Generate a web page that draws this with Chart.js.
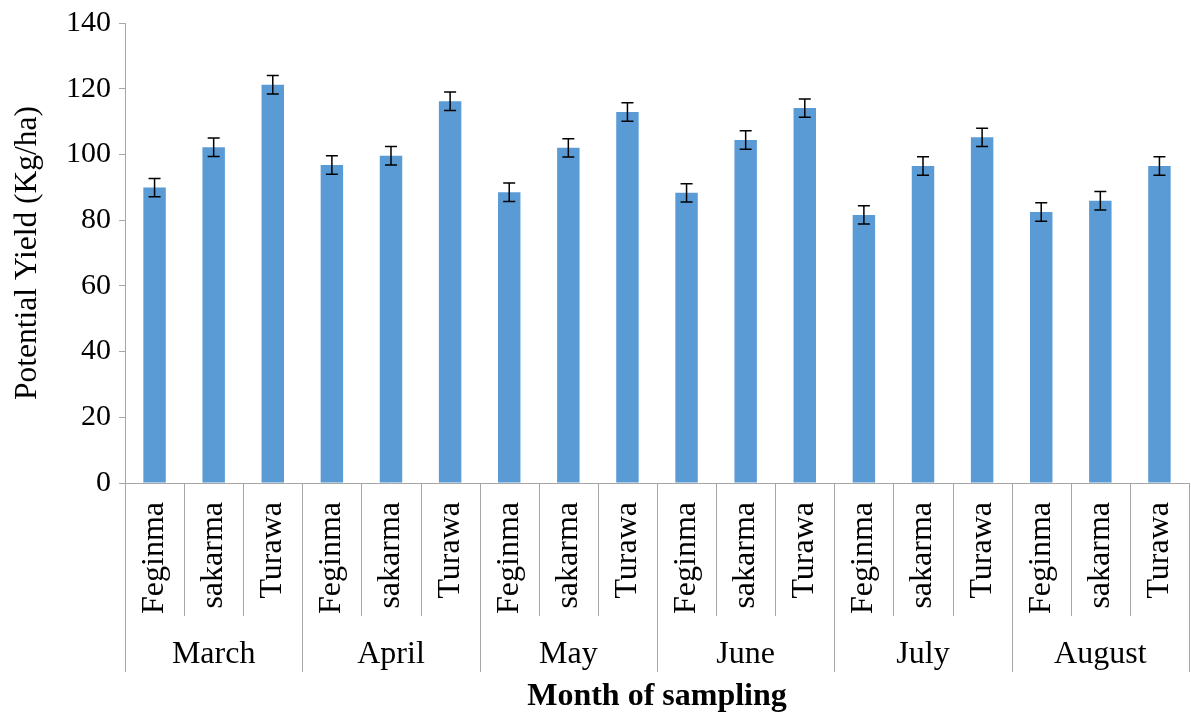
<!DOCTYPE html>
<html>
<head>
<meta charset="utf-8">
<script src="https://cdn.jsdelivr.net/npm/chart.js@4/dist/chart.umd.min.js"></script>
<style>
  body { margin: 0; background: #fff; }
</style>
</head>
<body>
<canvas id="barChart" width="1191" height="719"></canvas>
<script>
// -- Data --
const months = ["March", "April", "May", "June", "July", "August"]
const sites = ["Feginma", "sakarma", "Turawa"]
const yieldVals = [
  89.9, 102.2, 121.2,
  96.8, 99.6, 116.2,
  88.5, 102.0, 112.9,
  88.3, 104.4, 114.1,
  81.6, 96.5, 105.2,
  82.5, 85.9, 96.5
]
const errVals = [
  2.8, 2.8, 2.8,
  2.8, 2.8, 2.8,
  2.8, 2.8, 2.8,
  2.8, 2.8, 2.8,
  2.8, 2.8, 2.8,
  2.8, 2.8, 2.8
]
const yTicks = [0, 20, 40, 60, 80, 100, 120, 140]

const serif = '"Times New Roman", "Liberation Serif", serif'
const axisGray = "#a6a6a6"

let labels = []
for (let m of months) {
  for (let s of sites) labels.push(s)
}

// -- Plugins --
let errorBars = {
  id: "errorBars",
  afterDatasetsDraw(chart) {
    let ctx = chart.ctx
    let y = chart.scales.y
    let meta = chart.getDatasetMeta(0)
    ctx.save()
    ctx.strokeStyle = "#000"
    ctx.lineWidth = 1.5
    meta.data.forEach((bar, i) => {
      let top = y.getPixelForValue(yieldVals[i] + errVals[i])
      let bot = y.getPixelForValue(yieldVals[i] - errVals[i])
      ctx.beginPath()
      ctx.moveTo(bar.x, top)
      ctx.lineTo(bar.x, bot)
      ctx.moveTo(bar.x - 6, top)
      ctx.lineTo(bar.x + 6, top)
      ctx.moveTo(bar.x - 6, bot)
      ctx.lineTo(bar.x + 6, bot)
      ctx.stroke()
    })
    ctx.restore()
  }
}

let groupAxis = {
  id: "groupAxis",
  afterDraw(chart) {
    let ctx = chart.ctx
    let x = chart.scales.x
    let area = chart.chartArea
    let step = (area.right - area.left) / labels.length
    ctx.save()
    ctx.strokeStyle = axisGray
    ctx.lineWidth = 1
    for (let i = 0; i <= labels.length; i++) {
      let px = Math.round(x.getPixelForValue(0) - step / 2 + i * step) + 0.5
      let end = (i % sites.length === 0) ? 672 : 616
      ctx.beginPath()
      ctx.moveTo(px, area.bottom)
      ctx.lineTo(px, end)
      ctx.stroke()
    }
    ctx.fillStyle = "#000"
    ctx.font = "32px " + serif
    ctx.textAlign = "center"
    ctx.textBaseline = "middle"
    months.forEach((m, j) => {
      let cx = x.getPixelForValue(j * sites.length + 1)
      ctx.fillText(m, cx, 655)
    })
    ctx.restore()
  }
}

// -- Chart --
let ctx = document.getElementById("barChart")
let chart = new Chart(ctx, {
  type: "bar",
  data: {
    labels: labels,
    datasets: [{
      label: "Potential Yield",
      data: yieldVals,
      backgroundColor: "#5b9bd5",
      borderWidth: 0,
      categoryPercentage: 1,
      barPercentage: 0.38
    }]
  },
  options: {
    responsive: false,
    animation: false,
    devicePixelRatio: 1,
    layout: { padding: { top: 23, right: 2, left: 0, bottom: 0 } },
    plugins: {
      legend: { display: false },
      tooltip: { enabled: false }
    },
    scales: {
      x: {
        grid: { display: false },
        border: { color: axisGray, width: 1 },
        ticks: {
          minRotation: 90,
          maxRotation: 90,
          padding: 11,
          color: "#000",
          font: { family: serif, size: 32 }
        },
        title: {
          display: true,
          text: "Month of sampling",
          color: "#000",
          font: { family: serif, size: 32, weight: "bold" },
          padding: { top: 0, bottom: 3 }
        },
        afterFit(scale) {
          scale.height = 236
          scale.paddingLeft = 0
          scale.paddingRight = 0
        }
      },
      y: {
        min: 0,
        max: 140,
        afterBuildTicks(scale) { scale.ticks = yTicks.map(v => ({ value: v })) },
        grid: {
          drawOnChartArea: false,
          tickLength: 6,
          color: axisGray
        },
        border: { color: axisGray, width: 1 },
        ticks: {
          padding: 8,
          color: "#000",
          font: { family: serif, size: 30 }
        },
        title: {
          display: true,
          text: "Potential Yield (Kg/ha)",
          color: "#000",
          font: { family: serif, size: 31.5 },
          padding: { top: 9, bottom: 4 }
        },
        afterFit(scale) {
          scale.width = 125
          scale.paddingTop = 0
          scale.paddingBottom = 0
        }
      }
    }
  },
  plugins: [errorBars, groupAxis]
})
</script>
</body>
</html>
